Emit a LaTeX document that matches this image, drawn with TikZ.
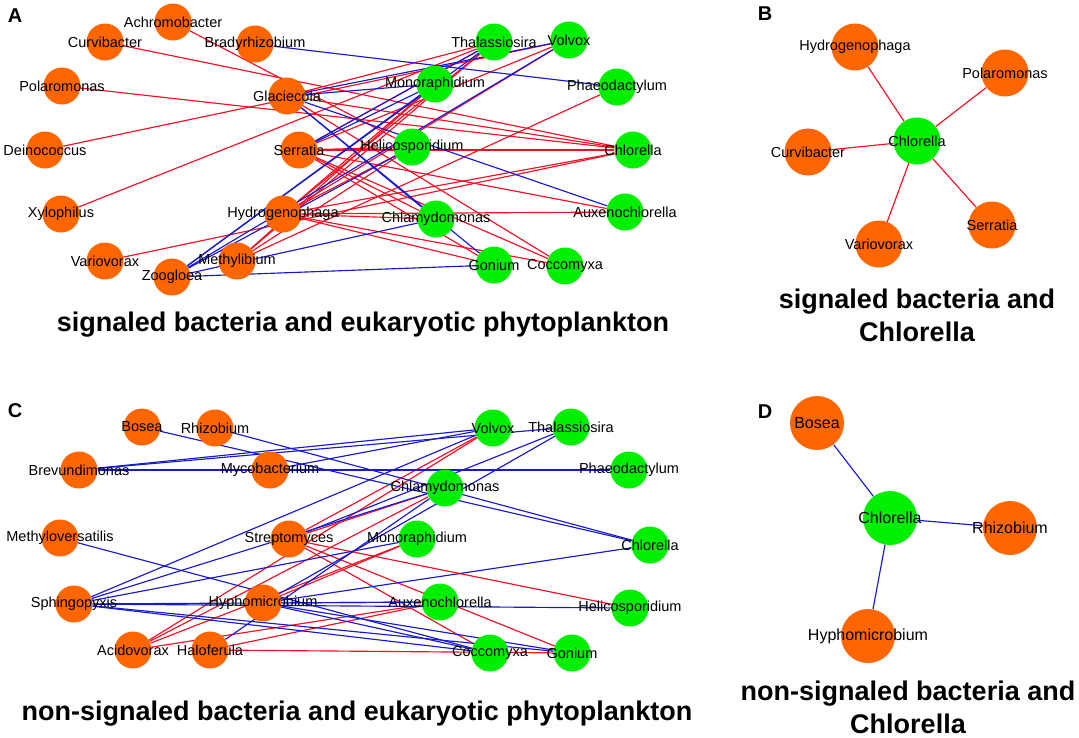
\documentclass[tikz,border=0pt]{standalone}
\usepackage{fontspec}
\setmainfont{Liberation Sans}
\usetikzlibrary{backgrounds}
\definecolor{borange}{RGB}{255,102,0}
\definecolor{agreen}{RGB}{0,238,0}
\definecolor{ered}{RGB}{245,15,35}
\definecolor{eblue}{RGB}{25,25,205}
\tikzset{
  bact/.style={circle,fill=borange,draw=none,inner sep=0pt,minimum size=37pt},
  alga/.style={circle,fill=agreen,draw=none,inner sep=0pt,minimum size=37pt},
  bignode/.style={minimum size=47pt},
  hugenode/.style={minimum size=54pt},
  lab/.style={font=\fontsize{14.5}{14.5}\selectfont,inner sep=0pt,text=black},
  labD/.style={font=\fontsize{16}{16}\selectfont,inner sep=0pt,text=black},
  posedge/.style={draw=ered,line width=1.15pt},
  negedge/.style={draw=eblue,line width=1.15pt},
  panellab/.style={font=\bfseries\fontsize{20}{20}\selectfont,inner sep=0pt},
  titlefont/.style={font=\bfseries\fontsize{27}{27}\selectfont,inner sep=0pt,anchor=base}
}
\begin{document}
\begin{tikzpicture}[x=1pt,y=-1pt]
\useasboundingbox (0,0) rectangle (1079,737);

% ---------------- Panel A ----------------
\node[panellab] (pA) at (15,16) {A};
\node[bact,label={[lab]center:Achromobacter}] (aAch) at (173,22) {};
\node[bact,label={[lab]center:Curvibacter}] (aCur) at (105,42) {};
\node[bact,label={[lab]center:Bradyrhizobium}] (aBra) at (255,44) {};
\node[bact,label={[lab]center:Polaromonas}] (aPol) at (62,86) {};
\node[bact,label={[lab]center:Glaciecola}] (aGla) at (287,96) {};
\node[bact,label={[lab]center:Deinococcus}] (aDei) at (45,150) {};
\node[bact,label={[lab]center:Serratia}] (aSer) at (299,150) {};
\node[bact,label={[lab]center:Xylophilus}] (aXyl) at (61,214) {};
\node[bact,label={[lab]center:Hydrogenophaga}] (aHyd) at (283,214) {};
\node[bact,label={[lab]center:Variovorax}] (aVar) at (105,261) {};
\node[bact,label={[lab]center:Methylibium}] (aMet) at (237,261) {};
\node[bact,label={[lab]center:Zoogloea}] (aZoo) at (172,277) {};
\node[alga,label={[lab]center:Thalassiosira}] (aTha) at (494,42) {};
\node[alga,label={[lab]center:Volvox}] (aVol) at (569,40) {};
\node[alga,label={[lab]center:Monoraphidium}] (aMon) at (435,84) {};
\node[alga,label={[lab]center:Phaeodactylum}] (aPha) at (617,87) {};
\node[alga,label={[lab]center:Helicosporidium}] (aHel) at (412,147) {};
\node[alga,label={[lab]center:Chlorella}] (aChl) at (633,150) {};
\node[alga,label={[lab]center:Chlamydomonas}] (aChy) at (436,219) {};
\node[alga,label={[lab]center:Auxenochlorella}] (aAux) at (625,212) {};
\node[alga,label={[lab]center:Gonium}] (aGon) at (494,265) {};
\node[alga,label={[lab]center:Coccomyxa}] (aCoc) at (565,266) {};
\node[titlefont] (tA) at (363,331) {signaled bacteria and eukaryotic phytoplankton};

\begin{pgfonlayer}{background}
\foreach \a/\b in {aAch/aHel,aCur/aChl,aPol/aChl,aDei/aVol,aXyl/aTha,aVar/aChl,
  aGla/aTha,aGla/aChl,aGla/aCoc,
  aSer/aHel,aSer/aChl,aSer/aTha,aSer/aChy,aSer/aGon,aSer/aCoc,aSer/aAux,aSer/aVol,
  aHyd/aTha,aHyd/aMon,aHyd/aVol,aHyd/aHel,aHyd/aChl,aHyd/aAux,aHyd/aChy,aHyd/aGon,aHyd/aCoc,
  aMet/aPha,aMet/aTha,aMet/aMon,aMet/aHel}
  \draw[posedge] (\a) -- (\b);
\foreach \a/\b in {aBra/aPha,aGla/aMon,aGla/aVol,aGla/aChy,aGla/aGon,aGla/aAux,
  aSer/aMon,aSer/aTha,
  aZoo/aTha,aZoo/aMon,aZoo/aVol,aZoo/aHel,aZoo/aChy,aZoo/aGon}
  \draw[negedge] (\a) -- (\b);
\end{pgfonlayer}

% ---------------- Panel B ----------------
\node[panellab] (pB) at (765,14) {B};
\node[bact,bignode,label={[lab]center:Hydrogenophaga}] (bHyd) at (855,47) {};
\node[bact,bignode,label={[lab]center:Polaromonas}] (bPol) at (1005,73) {};
\node[alga,bignode,label={[lab]center:Chlorella}] (bChl) at (917,141) {};
\node[bact,bignode,label={[lab]center:Curvibacter}] (bCur) at (808,152) {};
\node[bact,bignode,label={[lab]center:Serratia}] (bSer) at (992,225) {};
\node[bact,bignode,label={[lab]center:Variovorax}] (bVar) at (879,244) {};
\node[titlefont] (tB1) at (917,308) {signaled bacteria and};
\node[titlefont] (tB2) at (917,341) {Chlorella};
\begin{pgfonlayer}{background}
\foreach \b in {bHyd,bPol,bCur,bSer,bVar}
  \draw[posedge] (bChl) -- (\b);
\end{pgfonlayer}

% ---------------- Panel C ----------------
\node[panellab] (pC) at (15,411) {C};
\node[bact,label={[lab]center:Bosea}] (cBos) at (142,427) {};
\node[bact,label={[lab]center:Rhizobium}] (cRhi) at (215,428) {};
\node[bact,label={[lab]center:Brevundimonas}] (cBre) at (79,470) {};
\node[bact,label={[lab]center:Mycobacterium}] (cMyc) at (270,470) {};
\node[bact,label={[lab]center:Methyloversatilis}] (cMev) at (60,538) {};
\node[bact,label={[lab]center:Streptomyces}] (cStr) at (289,539) {};
\node[bact,label={[lab]center:Sphingopyxis}] (cSph) at (74,604) {};
\node[bact,label={[lab]center:Hyphomicrobium}] (cHyp) at (263,603) {};
\node[bact,label={[lab]center:Acidovorax}] (cAci) at (133,650) {};
\node[bact,label={[lab]center:Haloferula}] (cHal) at (210,650) {};
\node[alga,label={[lab]center:Volvox}] (cVol) at (493,428) {};
\node[alga,label={[lab]center:Thalassiosira}] (cTha) at (571,427) {};
\node[alga,label={[lab]center:Phaeodactylum}] (cPha) at (629,470) {};
\node[alga,label={[lab]center:Chlamydomonas}] (cChy) at (445,488) {};
\node[alga,label={[lab]center:Monoraphidium}] (cMon) at (417,539) {};
\node[alga,label={[lab]center:Chlorella}] (cChl) at (650,545) {};
\node[alga,label={[lab]center:Auxenochlorella}] (cAux) at (440,602) {};
\node[alga,label={[lab]center:Helicosporidium}] (cHel) at (630,608) {};
\node[alga,label={[lab]center:Coccomyxa}] (cCoc) at (490,653) {};
\node[alga,label={[lab]center:Gonium}] (cGon) at (572,653) {};
\node[titlefont] (tC) at (357,720) {non-signaled bacteria and eukaryotic phytoplankton};
\begin{pgfonlayer}{background}
\foreach \a/\b in {cStr/cVol,cStr/cChy,cStr/cHel,cStr/cGon,cStr/cCoc,
  cAci/cVol,cAci/cChy,cAci/cMon,cAci/cAux,cHyp/cMon,cHal/cGon,cHal/cAux}
  \draw[posedge] (\a) -- (\b);
\foreach \a/\b in {cBos/cChl,cRhi/cChl,cHyp/cChl,cBre/cVol,cBre/cTha,cBre/cPha,cMyc/cVol,
  cMev/cCoc,cSph/cVol,cSph/cChy,cSph/cMon,cSph/cAux,cSph/cHel,cSph/cCoc,cSph/cGon,
  cStr/cTha,cHyp/cTha,cHyp/cAux,cHyp/cCoc,cHyp/cGon,cHal/cChy}
  \draw[negedge] (\a) -- (\b);
\end{pgfonlayer}

% ---------------- Panel D ----------------
\node[panellab] (pD) at (765,412) {D};
\node[bact,hugenode,label={[labD]center:Bosea}] (dBos) at (817,423) {};
\node[alga,hugenode,label={[labD]center:Chlorella}] (dChl) at (890,518) {};
\node[bact,hugenode,label={[labD]center:Rhizobium}] (dRhi) at (1010,528) {};
\node[bact,hugenode,label={[labD]center:Hyphomicrobium}] (dHyp) at (868,636) {};
\node[titlefont] (tD1) at (908,700) {non-signaled bacteria and};
\node[titlefont] (tD2) at (908,733) {Chlorella};
\begin{pgfonlayer}{background}
\foreach \b in {dBos,dRhi,dHyp}
  \draw[negedge] (dChl) -- (\b);
\end{pgfonlayer}
\end{tikzpicture}
\end{document}
